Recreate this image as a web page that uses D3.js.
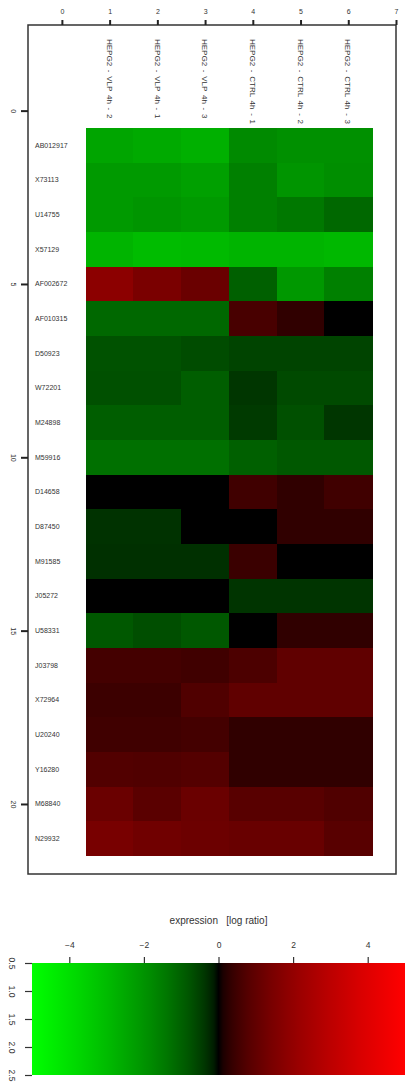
<!DOCTYPE html>
<html>
<head>
<meta charset="utf-8">
<script src="https://cdn.jsdelivr.net/npm/d3@7"></script>
<style>
  body { margin: 0; background: #fff; }
  text { font-family: "Liberation Sans", Arial, sans-serif; fill: #333; }
</style>
</head>
<body>
<div id="chart"></div>
<script>
// samples (columns) and genes (rows)
const samples = [
  "HEPG2 - VLP 4h - 2", "HEPG2 - VLP 4h - 1", "HEPG2 - VLP 4h - 3",
  "HEPG2 - CTRL 4h - 1", "HEPG2 - CTRL 4h - 2", "HEPG2 - CTRL 4h - 3"
];
const genes = [
  "AB012917", "X73113", "U14755", "X57129", "AF002672", "AF010315", "D50923",
  "W72201", "M24898", "M59916", "D14658", "D87450", "M91585", "J05272",
  "U58331", "J03798", "X72964", "U20240", "Y16280", "M68840", "N29932"
];
// log ratios, one array per gene, in sample order
const AB012917 = [-2.42, -2.54, -2.70, -1.80, -1.93, -1.93];
const X73113   = [-2.16, -2.16, -2.30, -1.59, -2.04, -1.89];
const U14755   = [-2.16, -2.04, -2.16, -1.59, -1.43, -1.12];
const X57129   = [-2.80, -3.01, -2.95, -2.80, -2.80, -2.90];
const AF002672 = [1.84, 1.46, 1.16, -0.98, -2.11, -1.59];
const AF010315 = [-1.12, -1.12, -1.12, 0.61, 0.31, 0.0];
const D50923   = [-0.76, -0.76, -0.67, -0.55, -0.55, -0.55];
const W72201   = [-0.73, -0.73, -0.95, -0.38, -0.64, -0.64];
const M24898   = [-0.95, -0.95, -0.95, -0.42, -0.73, -0.38];
const M59916   = [-1.27, -1.27, -1.27, -0.98, -0.85, -0.85];
const D14658   = [0.0, 0.0, 0.0, 0.50, 0.31, 0.50];
const D87450   = [-0.33, -0.33, 0.0, 0.0, 0.31, 0.31];
const M91585   = [-0.31, -0.31, -0.31, 0.42, 0.0, 0.0];
const J05272   = [0.0, 0.0, 0.0, -0.35, -0.35, -0.35];
const U58331   = [-0.85, -0.70, -0.85, 0.0, 0.31, 0.31];
const J03798   = [0.55, 0.55, 0.50, 0.67, 0.98, 0.98];
const X72964   = [0.45, 0.45, 0.73, 0.98, 0.98, 0.98];
const U20240   = [0.50, 0.50, 0.55, 0.31, 0.31, 0.31];
const Y16280   = [0.76, 0.73, 0.79, 0.31, 0.31, 0.31];
const M68840   = [1.16, 0.88, 1.16, 0.85, 0.85, 0.73];
const N29932   = [1.43, 1.27, 1.20, 1.12, 1.12, 0.85];
const values = [AB012917, X73113, U14755, X57129, AF002672, AF010315, D50923,
  W72201, M24898, M59916, D14658, D87450, M91585, J05272, U58331, J03798,
  X72964, U20240, Y16280, M68840, N29932];

const xTicks = [0, 1, 2, 3, 4, 5, 6, 7];
const yTicks = [0, 5, 10, 15, 20];
const legendTicks = [-4, -2, 0, 2, 4];
const legendYTicks = [0.5, 1.0, 1.5, 2.0, 2.5];

const width = 406, height = 1086;
const svg = d3.select("#chart").append("svg")
  .attr("width", width).attr("height", height);

// green - black - red, brightening quickly away from zero
const mag = d3.scalePow().exponent(0.6).domain([0, 5]).range([0, 255]).clamp(true);
const color = v => v < 0 ? d3.rgb(0, mag(-v), 0).formatHex() : d3.rgb(mag(v), 0, 0).formatHex();

// main plot scales (box spans the whole domain)
const x = d3.scaleLinear().domain([-0.71, 7]).range([28, 396]);
const y = d3.scaleLinear().domain([-2.47, 22.02]).range([25, 874]);

// cells
const cells = [];
values.forEach((row, r) => row.forEach((v, c) => cells.push({ r: r + 1, c: c + 1, v })));

svg.append("g").selectAll("rect")
  .data(cells)
  .enter()
  .append("rect")
  .attr("x", d => x(d.c - 0.5))
  .attr("y", d => y(d.r - 0.5))
  .attr("width", x(1) - x(0) + 0.5)
  .attr("height", y(1) - y(0) + 0.5)
  .attr("fill", d => color(d.v))
  .attr("shape-rendering", "crispEdges");

// plot box
svg.append("rect")
  .attr("x", x(-0.71)).attr("y", y(-2.47))
  .attr("width", x(7) - x(-0.71)).attr("height", y(22.02) - y(-2.47))
  .attr("fill", "none").attr("stroke", "#333").attr("stroke-width", 1.5);

// column labels
svg.append("g").selectAll("text")
  .data(samples)
  .enter()
  .append("text")
  .attr("transform", (d, i) => `translate(${x(i + 1)},39) rotate(90)`)
  .attr("dy", "0.35em")
  .attr("fill", "#333")
  .style("font-size", "8px")
  .style("word-spacing", "1.5px")
  .text(d => d);

// row labels
svg.append("g").selectAll("text")
  .data(genes)
  .enter()
  .append("text")
  .attr("x", 35)
  .attr("y", (d, i) => y(i + 1))
  .attr("dy", "0.35em")
  .attr("fill", "#333")
  .style("font-size", "7px")
  .text(d => d);

// top axis
const topAxis = svg.append("g")
  .attr("transform", `translate(0,${y(-2.47)})`)
  .call(d3.axisTop(x).tickValues(xTicks).tickSize(5).tickPadding(6).tickFormat(d3.format("d")));
topAxis.select(".domain").remove();
topAxis.selectAll("line").attr("stroke", "#222").attr("stroke-width", 2);
topAxis.selectAll("text").style("font-size", "7px").attr("fill", "#444");

// left axis
const leftAxis = svg.append("g")
  .attr("transform", `translate(${x(-0.71)},0)`)
  .call(d3.axisLeft(y).tickValues(yTicks).tickSize(7).tickFormat(d3.format("d")));
leftAxis.select(".domain").remove();
leftAxis.selectAll("line").attr("stroke", "#222").attr("stroke-width", 2);
leftAxis.selectAll("text")
  .attr("x", null).attr("dy", null)
  .attr("transform", "translate(-15,0) rotate(90)")
  .attr("text-anchor", "middle")
  .attr("dy", "0.35em")
  .style("font-size", "7px").attr("fill", "#444");

// ---- colour key ----
const lx = d3.scaleLinear().domain([-5, 5]).range([32, 405]);
const ly = d3.scaleLinear().domain([0.5, 2.5]).range([963, 1075]);

const grad = svg.append("defs").append("linearGradient")
  .attr("id", "key").attr("x1", "0%").attr("x2", "100%");
grad.selectAll("stop")
  .data(d3.range(-5, 5.001, 0.125))
  .enter()
  .append("stop")
  .attr("offset", d => (lx(d) - lx(-5)) / (lx(5) - lx(-5)))
  .attr("stop-color", d => color(d));

svg.append("rect")
  .attr("x", lx(-5)).attr("y", ly(0.5))
  .attr("width", lx(5) - lx(-5)).attr("height", ly(2.5) - ly(0.5))
  .attr("fill", "url(#key)");

svg.append("text")
  .attr("x", lx(0)).attr("y", 924)
  .attr("text-anchor", "middle")
  .attr("fill", "#333")
  .style("font-size", "10px")
  .text("expression\u00a0\u00a0\u00a0[log ratio]");

const keyTop = svg.append("g")
  .attr("transform", `translate(0,${ly(0.5)})`)
  .call(d3.axisTop(lx).tickValues(legendTicks).tickSize(6).tickPadding(9).tickFormat(d => d < 0 ? "\u2212" + Math.abs(d) : d));
keyTop.select(".domain").remove();
keyTop.selectAll("line").attr("stroke", "#333").attr("stroke-width", 1.2);
keyTop.selectAll("text").style("font-size", "8.5px").attr("fill", "#444");

const keyLeft = svg.append("g")
  .attr("transform", `translate(${lx(-5)},0)`)
  .call(d3.axisLeft(ly).tickValues(legendYTicks).tickSize(7).tickFormat(d3.format(".1f")));
keyLeft.select(".domain").remove();
keyLeft.selectAll("line").attr("stroke", "#333").attr("stroke-width", 1.2);
keyLeft.selectAll("text")
  .attr("x", null).attr("dy", null)
  .attr("transform", "translate(-20,0) rotate(90)")
  .attr("text-anchor", "middle")
  .attr("dy", "0.35em")
  .style("font-size", "8.5px").attr("fill", "#444");
</script>
</body>
</html>
